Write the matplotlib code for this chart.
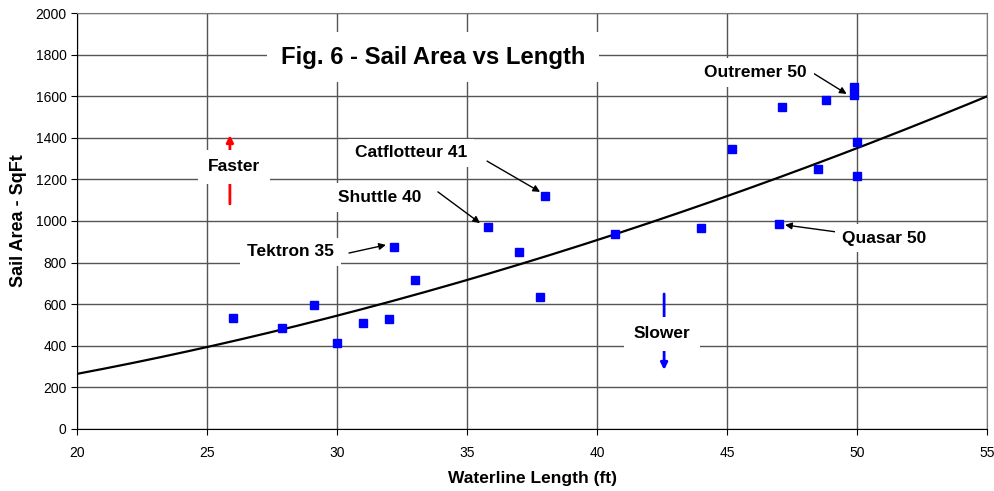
import matplotlib.pyplot as plt
import numpy as np

plt.rcParams['font.family'] = ['Liberation Sans', 'DejaVu Sans']

# boats: waterline length (ft) vs sail area (sq ft)
length_ft = [26.0, 27.9, 29.1, 30.0, 31.0, 32.0, 32.2, 33.0, 35.8, 37.0, 37.8, 38.0,
             40.7, 44.0, 45.2, 47.0, 47.1, 48.5, 48.8, 49.9, 49.9, 50.0, 50.0]
sail_area = [536, 487, 598, 414, 508, 530, 877, 718, 971, 851, 634, 1120,
             936, 965, 1346, 984, 1550, 1250, 1582, 1643, 1606, 1378, 1217]

# power trendline as drawn in the chart (y = a * x^b)
trend_b = 1.777
trend_a = 265 / 20 ** trend_b

# labelled boats: name, text centre, arrow start, arrow end
label_names = ['Outremer 50', 'Catflotteur 41', 'Shuttle 40', 'Tektron 35', 'Quasar 50']
label_text_pos = [(46.1, 1716), (32.85, 1327), (31.65, 1115), (28.2, 851), (51.05, 918)]
arrow_start = [(48.3, 1712), (35.77, 1288), (33.88, 1140), (30.46, 846), (49.23, 947)]
arrow_end = [(49.6, 1611), (37.81, 1140), (35.5, 990), (31.88, 885), (47.23, 981)]

fig = plt.figure(figsize=(9.95, 4.91), dpi=100)
ax = fig.add_axes([0.0774, 0.1263, 0.9146, 0.8472])

xs = np.linspace(20, 55, 200)
ax.plot(xs, trend_a * xs ** trend_b, color='black', lw=1.6, zorder=3)

ax.plot(length_ft, sail_area, 's', color='#0000ff', markersize=6.2, zorder=4)

ax.set_xlim(20, 55)
ax.set_ylim(0, 2000)
ax.set_xticks(range(20, 56, 5))
ax.set_yticks(range(0, 2001, 200))
ax.grid(True, color='#555555', lw=1.0, zorder=0)
ax.set_axisbelow(True)
for s in ['top', 'right']:
    ax.spines[s].set_color('#777777')
ax.tick_params(labelsize=10, length=4, direction='out')
ax.tick_params(axis='x', pad=8)
ax.set_xlabel('Waterline Length (ft)', fontsize=12.5, fontweight='bold', labelpad=8)
ax.set_ylabel('Sail Area - SqFt', fontsize=13, fontweight='bold', labelpad=6)

ax.text(33.7, 1788, 'Fig. 6 - Sail Area vs Length', fontsize=17.2, fontweight='bold',
        ha='center', va='center', zorder=6,
        bbox=dict(facecolor='white', edgecolor='none', pad=10))

box = dict(facecolor='white', edgecolor='none', pad=5)
for name, tp, a0, a1 in zip(label_names, label_text_pos, arrow_start, arrow_end):
    ax.text(tp[0], tp[1], name, fontsize=12.5, fontweight='bold',
            ha='center', va='center', bbox=box, zorder=6)
    ax.annotate('', xy=a1, xytext=a0, zorder=5,
                arrowprops=dict(arrowstyle='-|>', color='black', lw=1.0,
                                mutation_scale=10, shrinkA=0, shrinkB=0))

# faster / slower hints
ax.annotate('', xy=(25.88, 1413), xytext=(25.88, 1082),
            arrowprops=dict(arrowstyle='-|>', color='red', lw=2, mutation_scale=10,
                            shrinkA=0, shrinkB=0), zorder=5)
ax.text(26.04, 1260, 'Faster', fontsize=12.5, fontweight='bold', ha='center', va='center',
        bbox=dict(facecolor='white', edgecolor='none', pad=7), zorder=6)
ax.annotate('', xy=(42.58, 284), xytext=(42.58, 649),
            arrowprops=dict(arrowstyle='-|>', color='#0000ff', lw=2, mutation_scale=10,
                            shrinkA=0, shrinkB=0), zorder=5)
ax.text(42.5, 457, 'Slower', fontsize=12.5, fontweight='bold', ha='center', va='center',
        bbox=dict(facecolor='white', edgecolor='none', pad=7), zorder=6)

fig.savefig('out.png', dpi=100)
